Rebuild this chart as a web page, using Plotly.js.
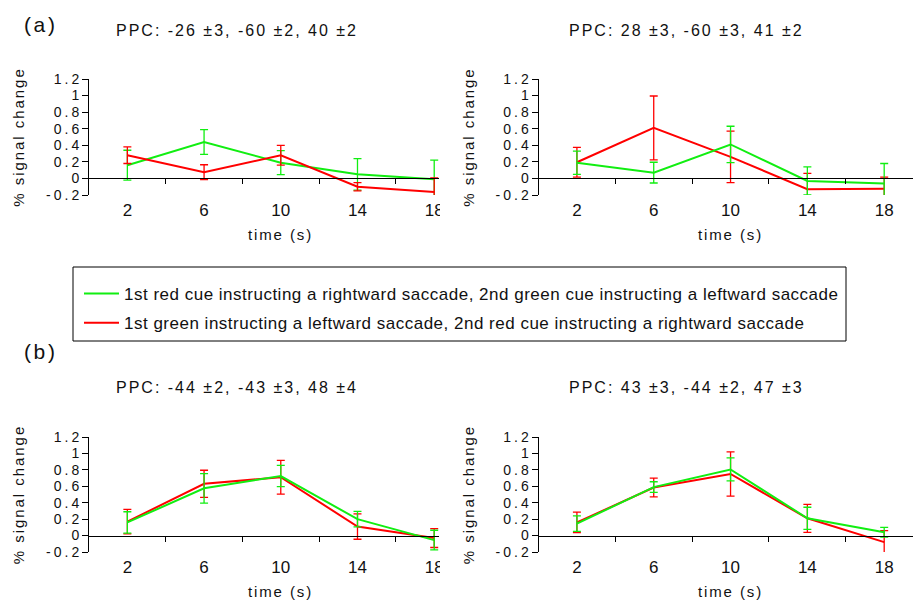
<!DOCTYPE html>
<html>
<head>
<meta charset="utf-8">
<script src="https://cdn.plot.ly/plotly-3.0.1.min.js"></script>
<style>
  html, body { margin: 0; padding: 0; background: #fff; }
  #chart { width: 913px; height: 601px; }
  .annotation-text { letter-spacing: 0.125em; }
  .legendtext { letter-spacing: 0.5px; }
  g[class^="y"][class$="tick"] text { letter-spacing: 3px; }
  text[class^="y"][class$="title"] { letter-spacing: 0.13em; }
</style>
</head>
<body>
<div id="chart"></div>
<script>
// ---- data ----
const times = [2, 6, 10, 14, 18];
const timeLabels = ['2', '6', '10', '14', '18'];
const minorTicks = [4, 8, 12, 16];
const yTickVals = [-0.2, 0, 0.2, 0.4, 0.6, 0.8, 1, 1.2];
const yTickText = ['-0.2', '0', '0.2', '0.4', '0.6', '0.8', '1', '1.2'];

const seriesNames = [
  '1st red cue instructing a rightward saccade, 2nd green cue instructing a leftward saccade',
  '1st green instructing a leftward saccade, 2nd red cue instructing a rightward saccade'
];
const panelTitles = [
  'PPC: -26 ±3, -60 ±2, 40 ±2',
  'PPC: 28 ±3, -60 ±3, 41 ±2',
  'PPC: -44 ±2, -43 ±3, 48 ±4',
  'PPC: 43 ±3, -44 ±2, 47 ±3'
];

// panel A left
const aLeftGreen = [0.16, 0.44, 0.19, 0.05, -0.01];
const aLeftGreenErr = [0.18, 0.15, 0.145, 0.19, 0.23];
const aLeftRed = [0.28, 0.075, 0.28, -0.10, -0.165];
const aLeftRedErr = [0.10, 0.09, 0.12, 0.05, 0.17];
// panel A right
const aRightGreen = [0.19, 0.07, 0.41, -0.03, -0.06];
const aRightGreenErr = [0.14, 0.125, 0.22, 0.17, 0.24];
const aRightRed = [0.195, 0.61, 0.26, -0.13, -0.125];
const aRightRedErr = [0.18, 0.385, 0.31, 0.19, 0.14];
// panel B left
const bLeftGreen = [0.16, 0.575, 0.725, 0.20, -0.055];
const bLeftGreenErr = [0.13, 0.18, 0.13, 0.095, 0.12];
const bLeftRed = [0.17, 0.63, 0.71, 0.11, -0.03];
const bLeftRedErr = [0.15, 0.165, 0.205, 0.155, 0.115];
// panel B right
const bRightGreen = [0.145, 0.59, 0.805, 0.21, 0.04];
const bRightGreenErr = [0.095, 0.065, 0.14, 0.135, 0.06];
const bRightRed = [0.16, 0.585, 0.75, 0.21, -0.08];
const bRightRedErr = [0.125, 0.115, 0.27, 0.17, 0.14];

// ---- styling / geometry ----
const W = 913, H = 601;
const GREEN = '#11ee11', RED = '#ff0000';
const FONT = 'Liberation Sans, Arial, sans-serif';
const TXT = '#111';
const px = v => v / W;
const py = v => 1 - v / H;
const yMin = -0.2, yMax = 1.2;

function errTrace(x, y, err, color, xa, ya, name, show, group) {
  return {
    type: 'scatter', mode: 'lines', x: x, y: y,
    xaxis: xa, yaxis: ya, name: name, showlegend: show, legendgroup: group,
    line: { color: color, width: 2 },
    error_y: { type: 'data', array: err, visible: true, color: color, thickness: 1.3, width: 4 },
    hoverinfo: 'skip'
  };
}

const data = [
  errTrace(times, aLeftGreen, aLeftGreenErr, GREEN, 'x', 'y', seriesNames[0], true, 'g'),
  errTrace(times, aLeftRed, aLeftRedErr, RED, 'x', 'y', seriesNames[1], true, 'r'),
  errTrace(times, aRightRed, aRightRedErr, RED, 'x2', 'y2', seriesNames[1], false, 'r'),
  errTrace(times, aRightGreen, aRightGreenErr, GREEN, 'x2', 'y2', seriesNames[0], false, 'g'),
  errTrace(times, bLeftRed, bLeftRedErr, RED, 'x3', 'y3', seriesNames[1], false, 'r'),
  errTrace(times, bLeftGreen, bLeftGreenErr, GREEN, 'x3', 'y3', seriesNames[0], false, 'g'),
  errTrace(times, bRightRed, bRightRedErr, RED, 'x4', 'y4', seriesNames[1], false, 'r'),
  errTrace(times, bRightGreen, bRightGreenErr, GREEN, 'x4', 'y4', seriesNames[0], false, 'g')
];

function yDomain(topPx, botPx) { return [py(botPx), py(topPx)]; }
function zeroPos(dom) { return dom[0] + (0 - yMin) / (yMax - yMin) * (dom[1] - dom[0]); }

function xAxis(l, r, rmax, ydom) {
  return {
    domain: [px(l), px(r)], range: [0, rmax], anchor: 'free', position: zeroPos(ydom),
    showline: true, linecolor: 'black', linewidth: 1, showgrid: false, zeroline: false,
    tickmode: 'array', tickvals: times, ticktext: timeLabels, ticks: '',
    ticklabelstandoff: 16,
    minor: { tickmode: 'array', tickvals: minorTicks, ticks: 'outside', ticklen: 5, tickwidth: 1, tickcolor: 'black', showgrid: false },
    tickfont: { family: FONT, size: 17, color: TXT }, fixedrange: true
  };
}
function yAxis(anchor, ydom) {
  return {
    domain: ydom, range: [yMin, yMax], anchor: anchor,
    showline: true, linecolor: 'black', linewidth: 1, showgrid: false, zeroline: false,
    tickmode: 'array', tickvals: yTickVals, ticktext: yTickText,
    ticks: 'outside', ticklen: 6, tickwidth: 1, tickcolor: 'black',
    ticklabelstandoff: -3,
    tickfont: { family: FONT, size: 14, color: TXT },
    title: { text: '% signal change', font: { family: FONT, size: 15, color: TXT }, standoff: 17 },
    fixedrange: true
  };
}

const domA = yDomain(79, 195);
const domB = yDomain(437, 552);
const leftL = 89, leftR = 439, rightL = 538.5, rightR = 913;
const leftMax = 18.25, rightMax = 19.5;

function ann(text, x, y, size, xref) {
  return { text: text, x: x, y: y, xref: xref || 'paper', yref: 'paper', showarrow: false,
           xanchor: 'center', yanchor: 'middle', font: { family: FONT, size: size, color: TXT } };
}

const layout = {
  width: W, height: H,
  margin: { l: 0, r: 0, t: 0, b: 0 },
  paper_bgcolor: 'white', plot_bgcolor: 'white',
  font: { family: FONT, color: TXT },
  showlegend: true,
  legend: {
    x: px(79), y: py(276), xanchor: 'left', yanchor: 'top',
    bgcolor: 'rgba(0,0,0,0)', borderwidth: 0,
    font: { family: FONT, size: 17, color: TXT },
    traceorder: 'grouped', tracegroupgap: 4, itemwidth: 35
  },
  xaxis: xAxis(leftL, leftR, leftMax, domA),
  yaxis: yAxis('x', domA),
  xaxis2: xAxis(rightL, rightR, rightMax, domA),
  yaxis2: yAxis('x2', domA),
  xaxis3: xAxis(leftL, leftR, leftMax, domB),
  yaxis3: yAxis('x3', domB),
  xaxis4: xAxis(rightL, rightR, rightMax, domB),
  yaxis4: yAxis('x4', domB),
  shapes: [
    // legend frame
    { type: 'rect', xref: 'paper', yref: 'paper', x0: px(73), x1: px(846), y0: py(341), y1: py(267),
      line: { color: 'black', width: 1 }, fillcolor: 'white', layer: 'below' },
    // cropped edge of the left panels (tick label "18" cut off in the original)
    { type: 'rect', xref: 'paper', yref: 'paper', x0: px(440), x1: px(458), y0: py(222), y1: py(197),
      line: { width: 0 }, fillcolor: 'white', layer: 'above' },
    { type: 'rect', xref: 'paper', yref: 'paper', x0: px(440), x1: px(458), y0: py(578), y1: py(554),
      line: { width: 0 }, fillcolor: 'white', layer: 'above' }
  ],
  annotations: [
    ann('(a)', px(41), py(25), 21),
    ann('(b)', px(41), py(351), 21),
    ann(panelTitles[0], px(237), py(31), 16),
    ann(panelTitles[1], px(686), py(31), 16),
    ann(panelTitles[2], px(237), py(387), 16),
    ann(panelTitles[3], px(686), py(387), 16),
    ann('time (s)', 10, py(234), 15, 'x'),
    ann('time (s)', 10, py(234), 15, 'x2'),
    ann('time (s)', 10, py(591), 15, 'x3'),
    ann('time (s)', 10, py(591), 15, 'x4')
  ]
};

Plotly.newPlot('chart', data, layout, { displayModeBar: false, staticPlot: true });
</script>
</body>
</html>
